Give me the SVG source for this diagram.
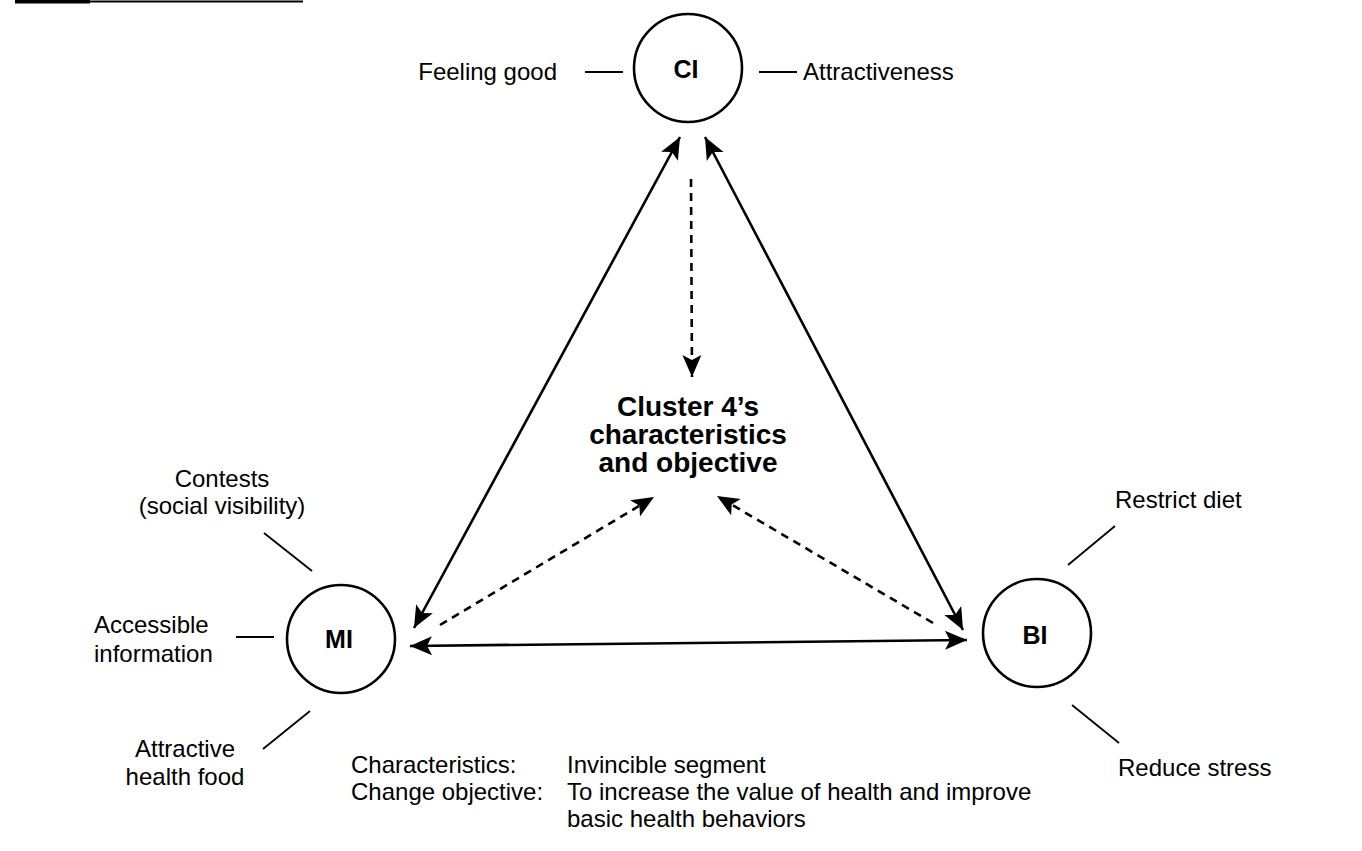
<svg xmlns="http://www.w3.org/2000/svg" width="1362" height="851" viewBox="0 0 1362 851">
  <style>
    .bg { fill: #ffffff; }
    .node { fill: none; stroke: #000; stroke-width: 2.6; }
    .nlabel { font-family: "Liberation Sans", Arial, sans-serif; font-weight: bold; font-size: 25px; fill: #000; text-anchor: middle; }
    .lbl { font-family: "Liberation Sans", Arial, sans-serif; font-size: 24px; fill: #000; }
    .mid { text-anchor: middle; }
    .end { text-anchor: end; }
    .title { font-family: "Liberation Sans", Arial, sans-serif; font-weight: bold; font-size: 28px; fill: #000; text-anchor: middle; }
    .tick { stroke: #000; stroke-width: 1.8; fill: none; }
    .solid { stroke: #000; stroke-width: 2.6; fill: none; marker-start: url(#head); marker-end: url(#head); }
    .dash { stroke: #000; stroke-width: 2.6; fill: none; stroke-dasharray: 8 6; marker-end: url(#head); }
  </style>
  <defs>
    <!-- barbed, filled arrowhead shared by all connectors -->
    <marker id="head" markerUnits="userSpaceOnUse" markerWidth="28" markerHeight="24" viewBox="-24 -12 26 24" refX="0" refY="0" orient="auto-start-reverse">
      <path d="M0,0 L-22,-9.5 L-17,0 L-22,9.5 Z" fill="#000"/>
    </marker>
  </defs>

  <rect class="bg" x="0" y="0" width="1362" height="851"/>

  <!-- rule at the top-left corner -->
  <rect x="15" y="0" width="75" height="3.5" fill="#000"/>
  <line x1="90" y1="1.5" x2="303" y2="1.5" stroke="#000" stroke-width="2"/>

  <g id="connectors">
    <line class="solid" x1="680" y1="137" x2="414" y2="628"/>
    <line class="solid" x1="705" y1="137" x2="963" y2="630"/>
    <line class="solid" x1="410" y1="646" x2="967" y2="640"/>
    <line class="dash" x1="691" y1="179" x2="692" y2="377"/>
    <line class="dash" x1="440" y1="625" x2="654" y2="497"/>
    <line class="dash" x1="933" y1="623" x2="717" y2="496"/>
  </g>

  <g id="node-ci">
    <circle class="node" cx="688" cy="68" r="54"/>
    <text class="nlabel" x="686" y="78">CI</text>
    <line class="tick" x1="585" y1="72" x2="623" y2="72"/>
    <text class="lbl end" x="557" y="80">Feeling good</text>
    <line class="tick" x1="759" y1="72" x2="797" y2="72"/>
    <text class="lbl" x="803" y="80">Attractiveness</text>
  </g>

  <g id="node-mi">
    <circle class="node" cx="341" cy="639" r="54"/>
    <text class="nlabel" x="339" y="648">MI</text>
    <line class="tick" x1="264" y1="533" x2="312" y2="571"/>
    <text class="lbl mid" x="222" y="487">Contests</text>
    <text class="lbl mid" x="222" y="514">(social visibility)</text>
    <line class="tick" x1="236" y1="637" x2="274" y2="637"/>
    <text class="lbl" x="94" y="633">Accessible</text>
    <text class="lbl" x="94" y="662">information</text>
    <line class="tick" x1="263" y1="749" x2="310" y2="711"/>
    <text class="lbl mid" x="185" y="757">Attractive</text>
    <text class="lbl mid" x="185" y="785">health food</text>
  </g>

  <g id="node-bi">
    <circle class="node" cx="1037" cy="633" r="54"/>
    <text class="nlabel" x="1035" y="644">BI</text>
    <line class="tick" x1="1068" y1="565" x2="1115" y2="526"/>
    <text class="lbl" x="1115" y="508">Restrict diet</text>
    <line class="tick" x1="1072" y1="705" x2="1119" y2="743"/>
    <text class="lbl" x="1118" y="776">Reduce stress</text>
  </g>

  <g id="node-cluster">
    <text class="title" x="688" y="416">Cluster 4’s</text>
    <text class="title" x="688" y="444">characteristics</text>
    <text class="title" x="688" y="472">and objective</text>
  </g>

  <g id="summary">
    <text class="lbl" x="351" y="773">Characteristics:</text>
    <text class="lbl" x="351" y="800">Change objective:</text>
    <text class="lbl" x="567" y="773">Invincible segment</text>
    <text class="lbl" x="567" y="800">To increase the value of health and improve</text>
    <text class="lbl" x="567" y="827">basic health behaviors</text>
  </g>
</svg>
